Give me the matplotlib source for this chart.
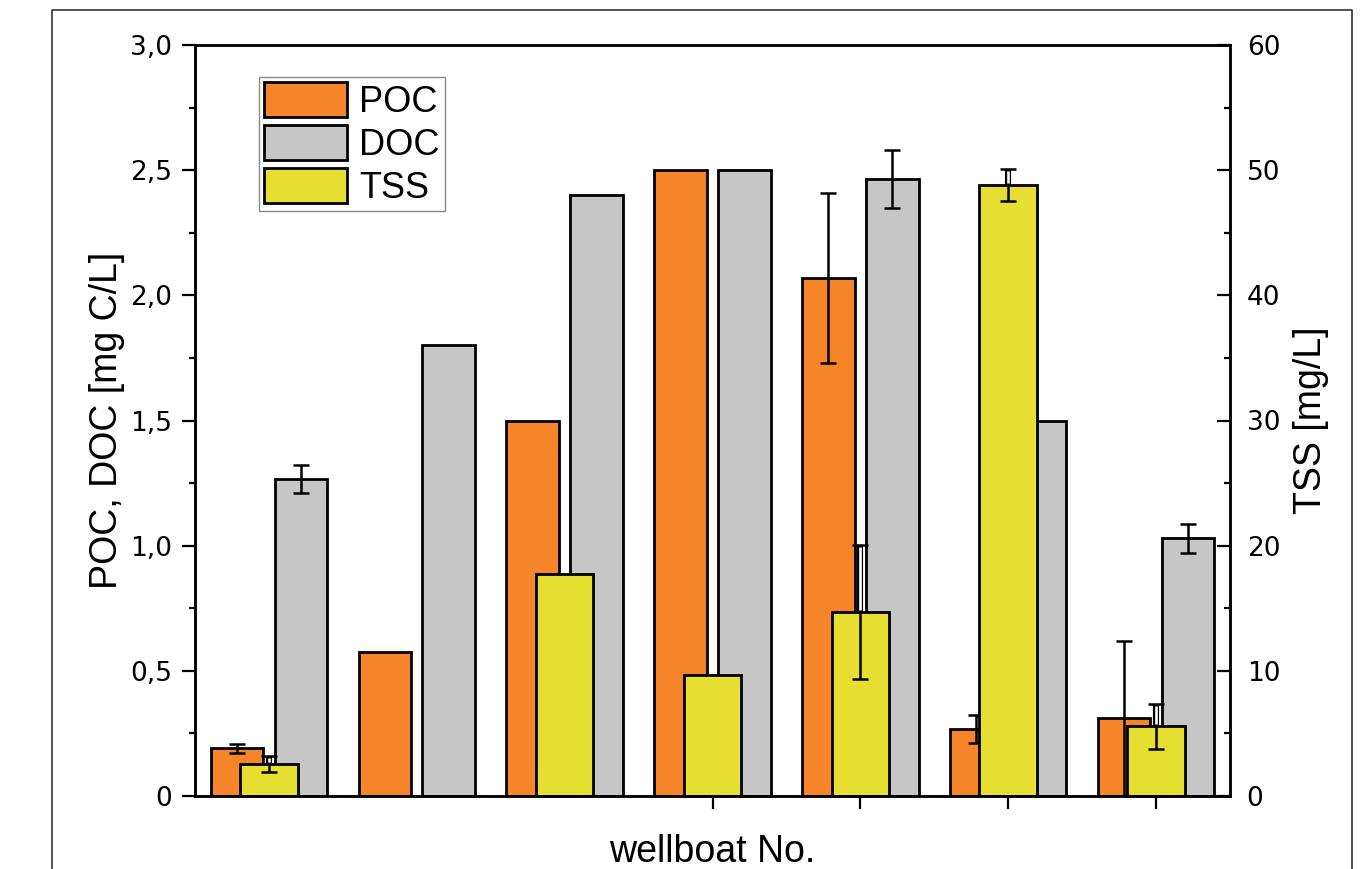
import numpy as np
import matplotlib.pyplot as plt
from matplotlib.lines import Line2D

# valores (7 wellboats)
wellboat = np.arange(1, 8)
poc = np.array([0.19, 0.575, 1.50, 2.50, 2.07, 0.267, 0.31])
poc_err = np.array([0.019, np.nan, np.nan, np.nan, 0.34, 0.055, 0.31])
doc = np.array([1.268, 1.80, 2.40, 2.50, 2.465, 1.50, 1.03])
doc_err = np.array([0.056, np.nan, np.nan, np.nan, 0.116, np.nan, 0.058])
tss = np.array([2.56, np.nan, 17.7, 9.7, 14.7, 48.8, 5.57])
tss_err = np.array([0.62, np.nan, np.nan, np.nan, 5.35, 1.27, 1.78])

left_ticks = [0, 0.5, 1.0, 1.5, 2.0, 2.5, 3.0]
left_labels = ['0', '0,5', '1,0', '1,5', '2,0', '2,5', '3,0']
right_ticks = [0, 10, 20, 30, 40, 50, 60]

orange = '#F6852A'
grey = '#C6C6C6'
yellow = '#E6DE30'

tick_font = {'family': 'DejaVu Sans', 'size': 19}
label_font = {'family': 'Liberation Sans', 'size': 27}

fig = plt.figure(figsize=(13.61, 8.69), dpi=100)
ax = fig.add_axes([195/1361, 1 - 796/869, (1230 - 195)/1361, (796 - 45)/869])
ax2 = ax.twinx()

off = 0.216
w = 0.355
wt = 0.39

# POC e DOC no eixo da esquerda
b_poc = ax.bar(wellboat - off, poc, width=w, color=orange, edgecolor='black', linewidth=2, zorder=2)
b_doc = ax.bar(wellboat + off, doc, width=w, color=grey, edgecolor='black', linewidth=2, zorder=2)

m = ~np.isnan(poc_err)
ax.errorbar(wellboat[m] - off, poc[m], yerr=poc_err[m], fmt='none', ecolor='black',
            elinewidth=1.8, capsize=6, capthick=1.8, zorder=3)
m = ~np.isnan(doc_err)
ax.errorbar(wellboat[m] + off, doc[m], yerr=doc_err[m], fmt='none', ecolor='black',
            elinewidth=1.8, capsize=6, capthick=1.8, zorder=3)

# TSS no eixo da direita
b_tss = ax2.bar(wellboat, tss, width=wt, color=yellow, edgecolor='black', linewidth=2, zorder=2)
m = ~np.isnan(tss_err)
ax2.errorbar(wellboat[m], tss[m], yerr=tss_err[m], fmt='none', ecolor='black',
             elinewidth=1.8, capsize=6, capthick=1.8, zorder=3)
# haste superior "vazada" como no original
ax2.vlines(wellboat[m], tss[m], tss[m] + tss_err[m], color='black', linewidth=4.4, zorder=4)
ax2.vlines(wellboat[m], tss[m] + 0.15, tss[m] + tss_err[m] - 0.15, color='white', linewidth=1.9, zorder=5)

ax.set_xlim(0.5, 7.5)
ax.set_xticks([4, 5, 6, 7])
ax.tick_params(axis='x', direction='out', length=9.5, width=1.6, labelbottom=False)

ax.set_ylim(0, 3.0)
ax.set_yticks(left_ticks)
ax.set_yticklabels(left_labels, fontdict=tick_font)
ax.set_yticks(np.arange(0.25, 3.0, 0.5), minor=True)
ax.tick_params(axis='y', which='major', direction='out', length=9.5, width=1.6, pad=7)
ax.tick_params(axis='y', which='minor', direction='out', length=4, width=1.6)

ax2.set_ylim(0, 60)
ax2.set_yticks(right_ticks)
ax2.set_yticklabels([str(t) for t in right_ticks], fontdict=tick_font)
ax2.set_yticks(np.arange(5, 60, 10), minor=True)
ax2.tick_params(axis='y', which='major', direction='in', length=9.5, width=1.6, pad=12)
ax2.tick_params(axis='y', which='minor', direction='in', length=4, width=1.6)

for a in (ax, ax2):
    for s in a.spines.values():
        s.set_linewidth(1.8)

ax.set_ylabel('POC, DOC [mg C/L]', fontdict=label_font, labelpad=4)
ax2.set_ylabel('TSS [mg/L]', fontdict=label_font, labelpad=9, rotation=90)
ax.set_xlabel('wellboat No.', fontdict=label_font, labelpad=18)

leg = ax2.legend([b_poc, b_doc, b_tss], ['POC', 'DOC', 'TSS'],
                 loc='upper left', bbox_to_anchor=((259 - 195)/1035, (796 - 77)/751),
                 borderaxespad=0, prop={'family': 'Liberation Sans', 'size': 26},
                 handlelength=2.3, handleheight=1.13, labelspacing=0.14,
                 handletextpad=0.33, borderpad=0.14, fancybox=False, framealpha=1)
leg.get_frame().set_edgecolor('#888888')
leg.get_frame().set_linewidth(1.0)
leg.set_zorder(10)

# moldura da página
fig.add_artist(Line2D([52/1361, 52/1361, 1352/1361, 1352/1361], [-0.1, 1 - 10/869, 1 - 10/869, -0.1],
                      transform=fig.transFigure, color='#333333', linewidth=1.2))

fig.savefig('out.png', dpi=100)
